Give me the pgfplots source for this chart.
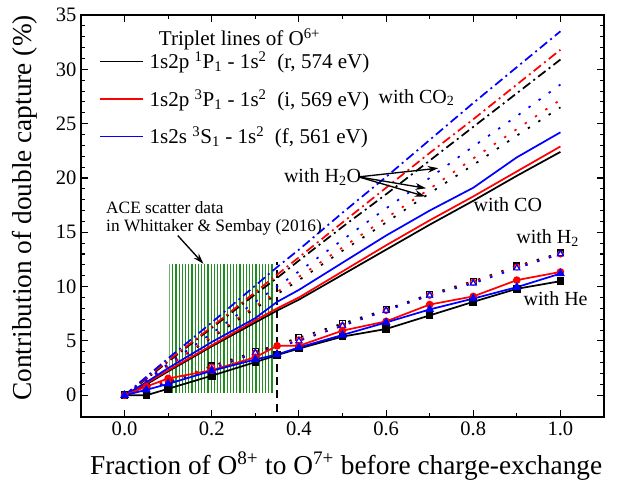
\documentclass[border=0pt]{standalone}
\usepackage{fontspec}
\setmainfont{Liberation Serif}
\usepackage{pgfplots}
\pgfplotsset{compat=1.18}
\usetikzlibrary{patterns.meta, arrows.meta}

\newcommand{\fsA}{\fontsize{15.4}{18}\selectfont}
\newcommand{\fsL}{\fontsize{15.8}{19}\selectfont}
\newcommand{\fsT}{\fontsize{15}{17}\selectfont}
\newcommand{\fsS}{\fontsize{13}{15}\selectfont}

\begin{document}
\begin{tikzpicture}
\begin{axis}[
  at={(0,0)}, anchor=south west,
  width=392.25pt, height=301.5pt, scale only axis,
  xmin=-0.1, xmax=1.1, ymin=-2, ymax=35,
  xtick={0,0.2,0.4,0.6,0.8,1.0}, minor x tick num=1,
  ytick={0,5,10,15,20,25,30,35}, minor y tick num=4,
  major tick length=5pt, minor tick length=3pt,
  tick style={black, line width=0.8pt},
  axis line style={line width=1pt},
  xticklabel style={/pgf/number format/fixed, /pgf/number format/fixed zerofill, /pgf/number format/precision=1},
  /pgf/number format/assume math mode=true,
  tick label style={font=\fsA},
  xlabel={Fraction of O\textsuperscript{8+} to O\textsuperscript{7+} before charge-exchange},
  ylabel={Contribution of double capture (\%)},
  every axis x label/.style={at={(axis description cs:0.507,-0.122)}, anchor=center, font=\fontsize{20.5}{24}\selectfont},
  every axis y label/.style={at={(axis description cs:-0.107,0.52)}, anchor=center, rotate=90, font=\fontsize{20.5}{24}\selectfont},
  legend style={at={(0.0363,0.915)}, anchor=north west, draw=none, fill=none, inner sep=0pt, row sep=10pt, font=\fsL, cells={anchor=west}},
  legend cell align=left,
  legend image code/.code={\path[use as bounding box, draw=none] (0pt,-1pt) rectangle (35pt,1pt); \draw[#1, overlay] (0pt,0pt) -- (32pt,0pt);},
  clip=false,
]
\addlegendimage{black, line width=1.1pt}
\addlegendentry{1s2p \textsuperscript{1}P\textsubscript{1} - 1s\textsuperscript{2}\ \ (r, 574 eV)}
\addlegendimage{red, line width=1.1pt}
\addlegendentry{1s2p \textsuperscript{3}P\textsubscript{1} - 1s\textsuperscript{2}\ \ (i, 569 eV)}
\addlegendimage{blue, line width=1.1pt}
\addlegendentry{1s2s \textsuperscript{3}S\textsubscript{1} - 1s\textsuperscript{2}\ \ (f, 561 eV)}

% ACE scatter data region
\fill[pattern={Lines[angle=90,distance=2.4pt,line width=0.9pt]}, pattern color={rgb,255:red,30;green,140;blue,30}] (axis cs:0.103,0.3) rectangle (axis cs:0.345,12);
\addplot[forget plot, black, line width=1.2pt, dash pattern=on 6pt off 4pt] coordinates {(0.35,-1.5) (0.35,12.3)};

% ---- with CO2 (dash dot)
\addplot[forget plot, black, line width=1.3pt, dash pattern=on 7pt off 3pt on 1.5pt off 3pt] coordinates {
(0,0) (0.05,1.5) (0.1,3.1) (0.2,6.2) (0.3,9.3) (0.35,10.8) (0.4,12.4) (0.5,15.5) (0.6,18.5) (0.7,21.6) (0.8,24.7) (0.9,27.8) (1.0,30.9)};
\addplot[forget plot, red, line width=1.3pt, dash pattern=on 7pt off 3pt on 1.5pt off 3pt] coordinates {
(0,0) (0.05,1.6) (0.1,3.2) (0.2,6.3) (0.3,9.5) (0.35,11.1) (0.4,12.7) (0.5,15.9) (0.6,19.1) (0.7,22.3) (0.8,25.4) (0.9,28.6) (1.0,31.8)};
\addplot[forget plot, blue, line width=1.3pt, dash pattern=on 7pt off 3pt on 1.5pt off 3pt] coordinates {
(0,0) (0.05,1.7) (0.1,3.4) (0.2,6.7) (0.3,10.1) (0.35,11.8) (0.4,13.4) (0.5,16.8) (0.6,20.1) (0.7,23.5) (0.8,26.9) (0.9,30.2) (1.0,33.5)};

% ---- with H2O (dotted)
\addplot[forget plot, black, line width=1.3pt, dash pattern=on 1.8pt off 7.5pt] coordinates {
(0,0) (0.05,1.3) (0.1,2.7) (0.2,5.3) (0.3,8.0) (0.35,9.3) (0.4,10.6) (0.5,13.3) (0.6,15.9) (0.7,18.6) (0.8,21.2) (0.9,23.9) (1.0,26.5)};
\addplot[forget plot, red, line width=1.3pt, dash pattern=on 1.8pt off 7.5pt] coordinates {
(0,0) (0.05,1.4) (0.1,2.7) (0.2,5.4) (0.3,8.2) (0.35,9.5) (0.4,10.9) (0.5,13.6) (0.6,16.3) (0.7,19.0) (0.8,21.8) (0.9,24.5) (1.0,27.2)};
\addplot[forget plot, blue, line width=1.3pt, dash pattern=on 1.8pt off 7.5pt] coordinates {
(0,0) (0.05,1.4) (0.1,2.9) (0.2,5.7) (0.3,8.6) (0.35,10.0) (0.4,11.4) (0.5,14.3) (0.6,17.2) (0.7,20.0) (0.8,22.9) (0.9,25.7) (1.0,28.6)};

% ---- with CO (solid)
\addplot[forget plot, black, line width=1.3pt] coordinates {
(0,0) (0.05,1.0) (0.1,2.2) (0.2,4.5) (0.3,6.7) (0.35,7.8) (0.4,8.8) (0.5,11.1) (0.6,13.4) (0.7,15.7) (0.8,17.9) (0.9,20.2) (1.0,22.4)};
\addplot[forget plot, red, line width=1.3pt] coordinates {
(0,0) (0.05,1.1) (0.1,2.3) (0.2,4.6) (0.3,6.9) (0.35,8.0) (0.4,9.0) (0.5,11.4) (0.6,13.8) (0.7,16.1) (0.8,18.3) (0.9,20.6) (1.0,22.9)};
\addplot[forget plot, blue, line width=1.3pt] coordinates {
(0,0) (0.05,1.2) (0.1,2.5) (0.2,4.9) (0.3,7.1) (0.35,8.6) (0.4,9.7) (0.5,12.2) (0.6,14.7) (0.7,17.0) (0.8,19.1) (0.9,21.9) (1.0,24.2)};

% ---- with H2 (dotted, open markers)
\addplot[forget plot, black, line width=1.3pt, dash pattern=on 1.8pt off 7.5pt, mark=square*, mark size=2.2pt, mark options={solid, fill=white, line width=0.9pt}] coordinates {
(0,0) (0.05,0.8) (0.1,1.2) (0.2,2.7) (0.3,4.0) (0.4,5.3) (0.5,6.6) (0.6,7.9) (0.7,9.3) (0.8,10.5) (0.9,11.9) (1.0,13.1)};
\addplot[forget plot, red, line width=1.3pt, dash pattern=on 1.8pt off 7.5pt, mark=*, mark size=2.2pt, mark options={solid, fill=white, line width=0.9pt}] coordinates {
(0,0) (0.05,0.8) (0.1,1.3) (0.2,2.6) (0.3,3.9) (0.4,5.1) (0.5,6.4) (0.6,7.8) (0.7,9.2) (0.8,10.4) (0.9,11.8) (1.0,13.0)};
\addplot[forget plot, blue, line width=1.3pt, dash pattern=on 1.8pt off 7.5pt, mark=triangle*, mark size=2.6pt, mark options={solid, fill=white, line width=0.9pt}] coordinates {
(0,0) (0.05,0.7) (0.1,1.1) (0.2,2.4) (0.3,3.9) (0.4,5.0) (0.5,6.4) (0.6,7.8) (0.7,9.2) (0.8,10.3) (0.9,11.7) (1.0,13.0)};

% ---- with He (solid, filled markers)
\addplot[forget plot, black, line width=1.3pt, mark=square*, mark size=2.2pt, mark options={solid}] coordinates {
(0,0) (0.05,0) (0.1,0.6) (0.2,1.8) (0.3,3.05) (0.35,3.7) (0.4,4.3) (0.5,5.4) (0.6,6.1) (0.7,7.35) (0.8,8.6) (0.9,9.8) (1.0,10.5)};
\addplot[forget plot, red, line width=1.3pt, mark=*, mark size=2.2pt, mark options={solid}] coordinates {
(0,0) (0.05,0.8) (0.1,1.55) (0.2,2.3) (0.3,3.5) (0.35,4.55) (0.4,4.55) (0.5,5.95) (0.6,6.8) (0.7,8.35) (0.8,9.1) (0.9,10.6) (1.0,11.35)};
\addplot[forget plot, blue, line width=1.3pt, mark=triangle*, mark size=2.6pt, mark options={solid}] coordinates {
(0,0) (0.05,0.5) (0.1,1.05) (0.2,2.25) (0.3,3.3) (0.35,3.75) (0.4,4.4) (0.5,5.55) (0.6,6.7) (0.7,7.9) (0.8,8.9) (0.9,9.95) (1.0,11.2)};

% ---- annotations
\node[anchor=west, font=\fsL] at (axis cs:0.068,32.8) {Triplet lines of O\textsuperscript{6+}};
\node[anchor=west, font=\fsT] at (axis cs:0.572,27.4) {with CO\textsubscript{2}};
\node[anchor=west, font=\fsT] at (axis cs:0.355,20.1) {with H\textsubscript{2}O};
\node[anchor=west, font=\fsT] at (axis cs:0.79,17.5) {with CO};
\node[anchor=west, font=\fsT] at (axis cs:0.888,14.5) {with H\textsubscript{2}};
\node[anchor=west, font=\fsT] at (axis cs:0.905,8.9) {with He};
\node[anchor=west, font=\fsS] at (axis cs:-0.053,17.3) {ACE scatter data};
\node[anchor=west, font=\fsS] at (axis cs:-0.053,15.5) {in Whittaker \& Sembay (2016)};
\draw[-{Stealth[length=8pt,width=5pt]}, line width=1pt] (axis cs:0.122,14.7) -- (axis cs:0.181,12.1);
\draw[-{Stealth[length=8pt,width=5pt]}, line width=1pt] (axis cs:0.537,20.1) -- (axis cs:0.72,20.9);
\draw[-{Stealth[length=8pt,width=5pt]}, line width=1pt] (axis cs:0.537,20.1) -- (axis cs:0.692,19.05);
\draw[-{Stealth[length=8pt,width=5pt]}, line width=1pt] (axis cs:0.537,20.1) -- (axis cs:0.690,18.3);
\end{axis}
\pgfresetboundingbox
\path (-60.75pt,-51pt) rectangle (402pt,312.75pt);
\end{tikzpicture}
\end{document}
